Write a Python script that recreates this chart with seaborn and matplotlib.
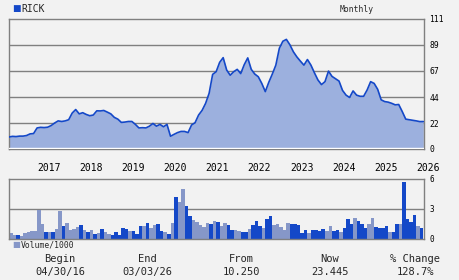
import numpy as np
import pandas as pd
import seaborn as sns
import matplotlib
matplotlib.use("Agg")
import matplotlib.pyplot as plt

# ---------------- data ----------------
ticker = "RICK"
frequency = "Monthly"
# monthly closing prices, starting 04/30/16 (index 0) to 03/03/26
price = [10.25, 10.8, 10.6, 11, 11, 11.5, 12.9, 13.2, 18, 18.5,
         18.3, 18.6, 20, 22.2, 24, 23.5, 24, 25, 30.7, 33.7,
         30, 31, 29.5, 28.4, 29, 32.6, 32.5, 32.9, 31.5, 30,
         27, 25.5, 22.7, 23, 23.5, 23.5, 21, 18, 18.2, 18,
         19.5, 21.8, 19.5, 21, 19, 21, 10.9, 12.5, 14, 15,
         15, 14, 20.5, 22.5, 29, 33, 39, 47.6, 63.7, 66,
         74, 78, 67.4, 63, 66, 68, 64.4, 72, 77.8, 68,
         64, 61.7, 56, 49, 57, 64, 71.6, 86, 92, 93.6,
         89, 83, 78.6, 75, 71.6, 76.4, 71.6, 65, 58.9, 55,
         57.5, 66.5, 62, 60, 58, 50, 46, 44, 49.6, 46,
         45, 45, 50.4, 57.5, 56, 51, 42, 40.5, 40, 39,
         37.7, 38, 32, 25.5, 25, 24.5, 24, 23.4, 23.445]

# monthly volume (scaled /1000 as on the chart)
volume = [0.6, 0.4, 0.4, 0.3, 0.6, 0.7, 0.8, 0.8, 2.9, 1.5,
          0.7, 0.7, 0.7, 1.0, 2.8, 1.3, 1.6, 0.9, 1.0, 1.2,
          1.4, 0.9, 0.7, 0.9, 0.5, 0.6, 1.0, 0.7, 0.5, 0.4,
          0.7, 0.4, 1.1, 1.0, 0.8, 0.8, 0.5, 1.3, 1.3,
          1.6, 1.1, 1.4, 1.5, 0.8, 0.7, 0.5, 1.6, 4.2, 3.7,
          5.0, 3.3, 2.3, 1.9, 1.7, 1.4, 1.2, 1.6, 1.5, 1.8,
          1.7, 1.3, 1.6, 1.4, 0.9, 0.9, 0.8, 0.7, 0.7, 1.0,
          1.4, 1.8, 1.3, 1.1, 2.0, 2.3, 1.4, 1.5, 1.2,
          0.9, 1.6, 1.5, 1.5, 1.4, 0.6, 0.9, 0.6, 0.9, 0.9,
          0.8, 1.0, 0.8, 1.3, 0.8, 0.9, 0.7, 1.1, 2.0, 1.5,
          2.1, 1.8, 1.5, 1.1, 1.5, 2.1, 1.2, 1.1, 1.1, 1.3,
          0.7, 0.7, 1.5, 1.5, 5.7, 2.0, 1.7, 2.4, 1.3, 1.1]
# D = up month (dark bar), L = down month (light bar)
vol_dir = ("LLDLLLLLLLDLDLLDLLLLDLDLDLDLLDDDDDLDDDL"
           "DLLDDLDLDLLDDLLLLLDLDLLDDLLDDLDDDLDDLLL"
           "LLDDDDDLDDDDLLDDLDDDLDDDLLDDDDLDDLDDDDLD")

years = [2017, 2018, 2019, 2020, 2021, 2022, 2023, 2024, 2025, 2026]
first_year_month = 8          # months from 04/30/16 to Jan 1 2017
price_ticks = [0, 22, 44, 67, 89, 111]
volume_ticks = [0, 3, 6]

footer_labels = ["Begin", "End", "From", "Now", "% Change"]
footer_values = ["04/30/16", "03/03/26", "10.250", "23.445", "128.7%"]

# ---------------- style ----------------
BG = "#f2f2f2"
DARK = "#1448c8"
LIGHT = "#8697c8"
FILL = "#9cb0de"
GRID = "#808080"
MONO = "DejaVu Sans Mono"

sns.set_theme(style="white")
plt.rcParams["font.family"] = [MONO, "DejaVu Sans"]

W, H = 460, 280
fig = plt.figure(figsize=(W / 100, H / 100), dpi=100, facecolor=BG)

def rect(x0, y0, x1, y1):
    return [x0 / W, 1 - y1 / H, (x1 - x0) / W, (y1 - y0) / H]

ax = fig.add_axes(rect(9, 19, 424, 149), facecolor=BG)
axv = fig.add_axes(rect(9, 179, 424, 239), facecolor=BG)

# ---------------- price panel ----------------
df = pd.DataFrame({"month": np.arange(len(price)), "price": price})
ax.fill_between(df["month"], df["price"], 0, color=FILL, lw=0, zorder=2)
sns.lineplot(data=df, x="month", y="price", ax=ax, color=DARK, lw=1.2,
             zorder=3)
ax.axhline(0.8, color="white", lw=1, zorder=4)
ax.set_xlim(0, len(price) - 0.8)
ax.set_ylim(0, price_ticks[-1])
ax.set_yticks(price_ticks)
ax.set_yticklabels([str(t) for t in price_ticks], fontsize=5.8)
ax.yaxis.tick_right()
ax.set_xticks([])
ax.tick_params(axis="y", length=0, pad=4, colors="black")
for t in price_ticks[1:-1]:
    ax.axhline(t, color=GRID, lw=1, zorder=1)
for s in ax.spines.values():
    s.set_color(GRID)
    s.set_linewidth(1)
ax.set_xlabel("")
ax.set_ylabel("")

# ---------------- volume panel ----------------
xs = np.arange(len(volume)) + 0.5
cols = [DARK if c == "D" else LIGHT for c in vol_dir[:len(volume)]]
axv.bar(xs, volume, width=1.0, color=cols, lw=0, zorder=2)
axv.set_xlim(0, len(price) - 0.8)
axv.set_ylim(0, volume_ticks[-1])
axv.set_yticks(volume_ticks)
axv.set_yticklabels([str(t) for t in volume_ticks], fontsize=5.5)
axv.yaxis.tick_right()
axv.tick_params(axis="y", length=0, pad=4, colors="black")
axv.axhline(3, color=GRID, lw=1, zorder=1)
for s in axv.spines.values():
    s.set_color(GRID)
    s.set_linewidth(1)
# year labels above volume panel, left aligned at Jan 1
axv.set_xticks([first_year_month + 12 * (y - years[0]) for y in years])
axv.set_xticklabels([str(y) for y in years], fontsize=7, ha="left")
axv.xaxis.tick_top()
axv.tick_params(axis="x", length=0, pad=4, colors="black")

# ---------------- legends / text ----------------
fig.text(12.5 / W, 1 - 9 / H, "\u25a0", color=DARK, fontsize=6.5,
         va="center", ha="left", family="DejaVu Sans")
fig.text(21 / W, 1 - 9 / H, ticker, fontsize=7, va="center", ha="left")
fig.text(357 / W, 1 - 9 / H, frequency, fontsize=5.8, va="center",
         ha="center")
fig.text(12.5 / W, 1 - 245 / H, "\u25a0", color=LIGHT, fontsize=6,
         va="center", ha="left", family="DejaVu Sans")
fig.text(21 / W, 1 - 245 / H, "Volume/1000", fontsize=5.8, va="center",
         ha="left")

centers = [60, 147, 241, 330, 415]
for cx, lab, val in zip(centers, footer_labels, footer_values):
    fig.text(cx / W, 1 - 259 / H, lab, fontsize=7.5, va="center",
             ha="center")
    fig.text(cx / W, 1 - 272 / H, val, fontsize=7.5, va="center",
             ha="center")

fig.savefig("out.png", dpi=100, facecolor=BG)
